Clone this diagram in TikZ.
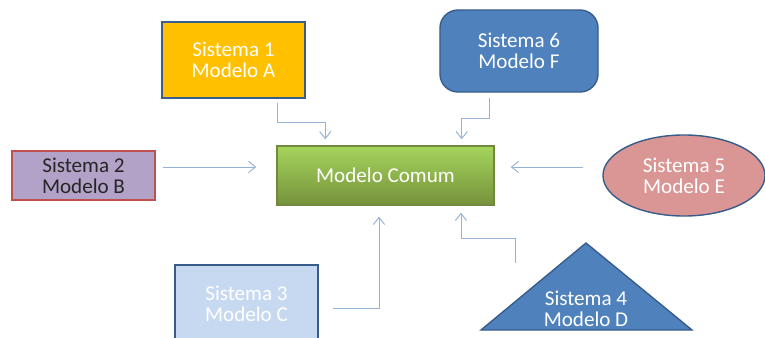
\documentclass[tikz,border=0pt]{standalone}
\usepackage{fontspec}
\setmainfont{Carlito}
\usepackage{tikz}
\usetikzlibrary{arrows.meta,shapes.geometric}
\usepackage{xcolor}
\definecolor{sysAmber}{HTML}{FFC000}
\definecolor{sysBlue}{HTML}{4F81BD}
\definecolor{sysEdge}{HTML}{385D8A}
\definecolor{sysLilac}{HTML}{B3A2C7}
\definecolor{sysRed}{HTML}{C0504D}
\definecolor{sysRose}{HTML}{D99694}
\definecolor{sysPale}{HTML}{C6D9F1}
\definecolor{comTop}{HTML}{A5D45C}
\definecolor{comBot}{HTML}{76923C}
\definecolor{comEdge}{HTML}{71893F}
\definecolor{linkBlue}{HTML}{95B3D7}
\begin{document}
\begin{tikzpicture}[x=0.025cm,y=-0.025cm,
  sysbox/.style={draw=sysEdge,line width=1pt,text=white,align=center,
    font=\fontsize{15}{15}\selectfont,inner sep=0pt},
  link/.style={linkBlue,line width=0.7pt,-{Straight Barb[length=5pt,width=8pt]}}]
  \clip (0,0) rectangle (765,337);
  \node[sysbox,fill=sysAmber,minimum width=3.575cm,minimum height=1.9cm]
    (s1) at (233.5,60) {Sistema 1\\Modelo A};
  \node[sysbox,fill=sysBlue,rounded corners=0.45cm,minimum width=3.95cm,minimum height=2.05cm]
    (s6) at (519,51) {Sistema 6\\Modelo F};
  \node[sysbox,draw=sysRed,fill=sysLilac,text=black!85,minimum width=3.575cm,minimum height=1.225cm]
    (s2) at (83.5,175.5) {Sistema 2\\Modelo B};
  \node[sysbox,draw=comEdge,top color=comTop,bottom color=comBot,minimum width=5.425cm,minimum height=1.475cm]
    (mc) at (385.5,175.5) {Modelo Comum};
  \node[sysbox,ellipse,fill=sysRose,minimum width=4.05cm,minimum height=2.025cm]
    (s5) at (684,175.5) {Sistema 5\\Modelo E};
  \node[sysbox,fill=sysPale,minimum width=3.575cm,minimum height=1.95cm]
    (s3) at (246.5,304) {Sistema 3\\Modelo C};
  \filldraw[fill=sysBlue,draw=sysEdge,line width=1pt,line join=miter]
    (586,243) -- (692,330) -- (481,330) -- cycle;
  \node[sysbox,draw=none] (s4) at (586,309) {Sistema 4\\Modelo D};
  \draw[link] ([shift={(44,4)}]s1.south) -- ++(0,20) -| ([shift={(49,-6)}]mc.north west);
  \draw[link] ([shift={(-30,5)}]s6.south) -- ++(0,21) -| ([shift={(-33,-6)}]mc.north east);
  \draw[link] ([shift={(7,-8.5)}]s2.east) -- ([shift={(-20,-8.5)}]mc.west);
  \draw[link] ([shift={(-19,-8.5)}]s5.west) -- ([shift={(16,-8.5)}]mc.east);
  \draw[link] ([shift={(14,4)}]s3.east) -| ([shift={(-6.5,11)}]mc.south);
  \draw[link] ([shift={(-71,-46)}]s4.center) -- ++(0,-25) -| ([shift={(75.5,7)}]mc.south);
\end{tikzpicture}
\end{document}
